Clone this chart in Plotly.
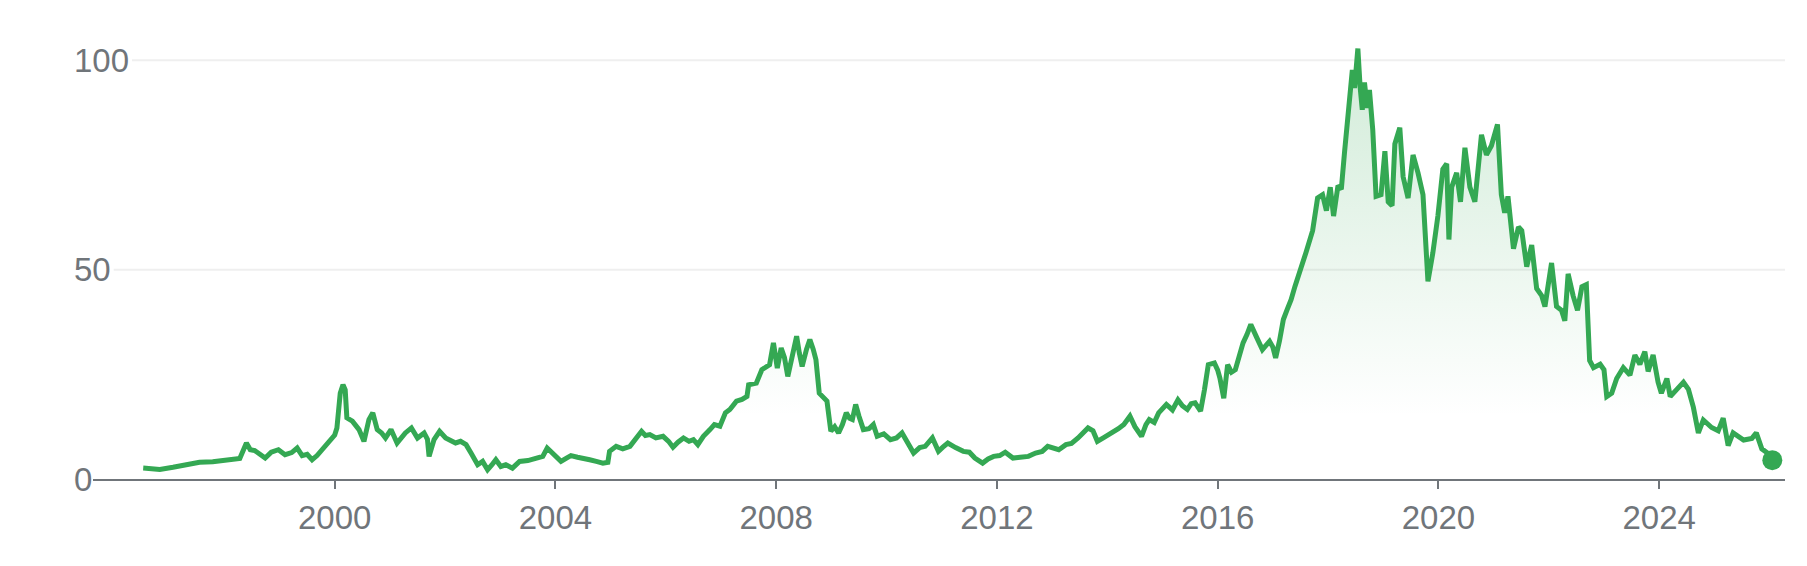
import plotly.graph_objects as go

# ---- data (decimal year, price) ----
years = [
    1996.53, 1996.71, 1996.83, 1997.07, 1997.31, 1997.55, 1997.79, 1998.10, 1998.28, 1998.40,
    1998.47, 1998.55, 1998.64, 1998.74, 1998.85, 1998.98, 1999.10, 1999.22, 1999.32, 1999.41,
    1999.50, 1999.59, 1999.68, 1999.77, 1999.85, 1999.92, 2000.00, 2000.04, 2000.10, 2000.15,
    2000.19, 2000.22, 2000.32, 2000.44, 2000.53, 2000.62, 2000.69, 2000.77, 2000.85, 2000.92,
    2001.02, 2001.13, 2001.20, 2001.28, 2001.39, 2001.50, 2001.62, 2001.68, 2001.71, 2001.80,
    2001.90, 2002.01, 2002.10, 2002.19, 2002.28, 2002.38, 2002.47, 2002.53, 2002.59, 2002.68,
    2002.77, 2002.85, 2002.92, 2003.01, 2003.10, 2003.22, 2003.35, 2003.50, 2003.65, 2003.77,
    2003.85, 2003.95, 2004.10, 2004.20, 2004.28, 2004.40, 2004.50, 2004.62, 2004.74, 2004.86,
    2004.95, 2004.98, 2005.10, 2005.22, 2005.35, 2005.45, 2005.56, 2005.63, 2005.71, 2005.82,
    2005.95, 2006.05, 2006.13, 2006.22, 2006.32, 2006.42, 2006.50, 2006.58, 2006.68, 2006.80,
    2006.88, 2006.98, 2007.08, 2007.16, 2007.28, 2007.38, 2007.47, 2007.50, 2007.64, 2007.74,
    2007.88, 2007.95, 2008.02, 2008.09, 2008.15, 2008.21, 2008.30, 2008.37, 2008.42, 2008.47,
    2008.55, 2008.61, 2008.67, 2008.72, 2008.78, 2008.86, 2008.92, 2008.99, 2009.06, 2009.13,
    2009.20, 2009.27, 2009.33, 2009.38, 2009.44, 2009.50, 2009.58, 2009.68, 2009.76, 2009.83,
    2009.95, 2010.07, 2010.18, 2010.28, 2010.38, 2010.49, 2010.60, 2010.70, 2010.83, 2010.94,
    2011.02, 2011.11, 2011.25, 2011.39, 2011.50, 2011.60, 2011.74, 2011.84, 2011.94, 2012.05,
    2012.15, 2012.29, 2012.42, 2012.57, 2012.70, 2012.82, 2012.92, 2013.02, 2013.12, 2013.25,
    2013.35, 2013.47, 2013.56, 2013.65, 2013.74, 2013.82, 2013.95, 2014.10, 2014.20, 2014.30,
    2014.41, 2014.50, 2014.62, 2014.70, 2014.76, 2014.85, 2014.93, 2015.07, 2015.18, 2015.28,
    2015.36, 2015.45, 2015.52, 2015.59, 2015.69, 2015.76, 2015.83, 2015.94, 2016.00, 2016.04,
    2016.11, 2016.18, 2016.25, 2016.32, 2016.40, 2016.46, 2016.53, 2016.60, 2016.70, 2016.81,
    2016.88, 2016.94, 2017.00, 2017.05, 2017.12, 2017.19, 2017.26, 2017.33, 2017.40, 2017.48,
    2017.60, 2017.72, 2017.81, 2017.90, 2017.97, 2018.04, 2018.10, 2018.18, 2018.24, 2018.30,
    2018.39, 2018.44, 2018.48, 2018.54, 2018.58, 2018.62, 2018.66, 2018.71, 2018.75, 2018.81,
    2018.87, 2018.96, 2019.03, 2019.09, 2019.16, 2019.21, 2019.30, 2019.36, 2019.45, 2019.54,
    2019.63, 2019.72, 2019.81, 2019.90, 2019.99, 2020.08, 2020.15, 2020.19, 2020.24, 2020.33,
    2020.40, 2020.48, 2020.57, 2020.66, 2020.78, 2020.87, 2020.96, 2021.07, 2021.14, 2021.20,
    2021.26, 2021.36, 2021.45, 2021.51, 2021.60, 2021.69, 2021.78, 2021.87, 2021.93, 2022.05,
    2022.14, 2022.23, 2022.29, 2022.35, 2022.44, 2022.52, 2022.60, 2022.68, 2022.74, 2022.81,
    2022.93, 2023.00, 2023.05, 2023.14, 2023.23, 2023.35, 2023.47, 2023.56, 2023.65, 2023.74,
    2023.80, 2023.89, 2023.98, 2024.04, 2024.14, 2024.20, 2024.32, 2024.44, 2024.53, 2024.62,
    2024.71, 2024.80, 2024.95, 2025.07, 2025.16, 2025.25, 2025.34, 2025.53, 2025.68, 2025.76,
    2025.86, 2025.95, 2026.05,
]
prices = [
    2.6, 2.5, 2.3, 2.8, 3.3, 4.0, 4.1, 4.6, 4.9, 8.6,
    7.0, 6.8, 6.0, 5.0, 6.4, 7.0, 5.8, 6.3, 7.4, 5.6,
    5.9, 4.6, 5.6, 7.0, 7.8, 9.0, 10.5, 12.2, 20.5, 22.5,
    21.3, 14.6, 13.8, 11.8, 9.0, 14.2, 15.8, 11.8, 11.0, 9.8,
    11.8, 8.6, 9.8, 11.0, 12.2, 9.8, 11.0, 9.5, 5.4, 9.4,
    11.4, 9.8, 9.2, 8.6, 9.0, 8.2, 6.2, 5.0, 3.4, 4.2,
    2.2, 3.4, 4.6, 3.0, 3.4, 2.6, 4.2, 4.4, 4.8, 5.4,
    7.4, 6.2, 4.2, 5.0, 5.6, 5.2, 5.0, 4.6, 4.2, 3.8,
    4.0, 6.6, 7.8, 7.2, 7.8, 9.5, 11.4, 10.4, 10.6, 9.8,
    10.2, 9.0, 7.6, 8.8, 9.8, 9.0, 9.4, 8.2, 10.2, 11.8,
    13.0, 12.6, 15.8, 16.6, 18.6, 19.0, 19.7, 22.5, 22.9, 26.1,
    27.3, 32.5, 26.5, 31.3, 29.0, 24.5, 29.5, 34.1, 30.0, 26.9,
    31.0, 33.3, 31.0, 28.5, 20.5, 19.5, 18.6, 11.4, 12.5, 11.0,
    13.0, 15.8, 14.5, 14.2, 17.8, 15.0, 11.8, 12.0, 13.0, 10.2,
    10.8, 9.4, 9.8, 11.0, 8.5, 6.2, 7.5, 7.8, 9.8, 6.6,
    7.6, 8.6, 7.5, 6.6, 6.4, 5.0, 3.8, 4.8, 5.4, 5.6,
    6.4, 5.0, 5.2, 5.4, 6.2, 6.6, 7.8, 7.4, 7.0, 8.2,
    8.5, 9.8, 11.0, 12.2, 11.5, 9.0, 10.0, 11.0, 12.0, 13.0,
    15.0, 12.5, 10.2, 13.0, 14.2, 13.5, 15.8, 17.8, 16.5, 18.9,
    17.5, 16.6, 18.0, 18.2, 16.2, 21.3, 27.3, 27.7, 26.0, 24.1,
    19.3, 27.3, 25.5, 26.1, 30.0, 32.5, 34.5, 36.9, 34.0, 30.9,
    32.0, 32.9, 31.5, 28.9, 33.0, 38.1, 40.5, 42.8, 46.0, 49.0,
    54.1, 59.3, 67.1, 67.9, 64.1, 69.7, 62.8, 70.1, 69.2, 78.3,
    90.3, 97.7, 93.4, 102.8, 93.8, 88.2, 94.7, 88.6, 92.9, 83.4,
    67.5, 67.9, 78.3, 66.2, 65.3, 80.0, 83.9, 72.2, 67.1, 77.4,
    73.1, 67.9, 47.2, 54.1, 62.8, 74.0, 75.3, 57.2, 69.7, 73.1,
    66.2, 79.1, 69.7, 66.2, 82.2, 77.4, 79.6, 84.7, 67.9, 63.6,
    67.5, 55.0, 60.2, 59.3, 50.7, 55.9, 45.5, 43.8, 41.2, 51.6,
    41.2, 40.3, 37.8, 49.0, 43.8, 40.3, 45.9, 46.4, 28.3, 26.6,
    27.4, 26.1, 19.7, 20.5, 24.0, 26.6, 24.8, 29.6, 27.4, 30.4,
    25.7, 29.6, 23.1, 20.5, 24.0, 19.7, 21.4, 23.1, 21.4, 17.1,
    11.0, 14.1, 12.3, 11.5, 14.5, 8.0, 11.0, 9.3, 9.7, 11.0,
    7.2, 6.3, 4.5,
]

x_tick_values = [2000, 2004, 2008, 2012, 2016, 2020, 2024]
x_tick_labels = ["2000", "2004", "2008", "2012", "2016", "2020", "2024"]
y_tick_values = [0, 50, 100]
y_tick_labels = ["0", "50", "100"]

# ---- style ----
GREEN = "#34A853"
GREY = "#70757a"
FONT = "Arial, 'Liberation Sans', sans-serif"
FONT_SIZE = 33
W, H = 1807, 566
L, R, T, B = 93, 22, 40, 87
X_RANGE = [1995.62, 2026.28]
Y_RANGE = [0, 104.85]

fig = go.Figure()
fig.add_trace(go.Scatter(
    x=years, y=prices, mode="lines",
    line=dict(color=GREEN, width=5),
    fill="tozeroy",
    fillgradient=dict(
        type="vertical", start=0, stop=100,
        colorscale=[[0, "rgba(52,168,83,0)"], [0.15, "rgba(52,168,83,0)"],
                    [1, "rgba(52,168,83,0.22)"]],
    ),
    hoverinfo="skip", showlegend=False,
))
fig.add_trace(go.Scatter(
    x=[years[-1]], y=[prices[-1]], mode="markers",
    marker=dict(color=GREEN, size=20),
    hoverinfo="skip", showlegend=False,
))

plot_w = W - L - R
label_left_px = 72
char_w = FONT_SIZE * 0.556
shapes = []
annotations = []
for v, lab in zip(y_tick_values, y_tick_labels):
    annotations.append(dict(
        x=(label_left_px - L) / plot_w, xref="paper", y=v, yref="y",
        text=lab, showarrow=False, xanchor="left", yanchor="middle",
        font=dict(family=FONT, size=FONT_SIZE, color=GREY),
    ))
    if v != 0:
        x0_px = label_left_px + 3 + len(lab) * char_w + 2
        shapes.append(dict(
            type="line", xref="paper", yref="y",
            x0=(x0_px - L) / plot_w, x1=1, y0=v, y1=v,
            line=dict(color="#efefef", width=2), layer="below",
        ))

fig.update_layout(
    template="none",
    width=W, height=H,
    margin=dict(l=L, r=R, t=T, b=B, pad=0, autoexpand=False),
    paper_bgcolor="white", plot_bgcolor="white",
    shapes=shapes, annotations=annotations,
    xaxis=dict(
        range=X_RANGE, tickmode="array", tickvals=x_tick_values, ticktext=x_tick_labels,
        showgrid=False, zeroline=False, showline=True, linecolor=GREY, linewidth=2,
        ticks="outside", ticklen=8, tickwidth=2, tickcolor=GREY,
        tickfont=dict(family=FONT, size=FONT_SIZE, color=GREY),
        fixedrange=True, automargin=False,
    ),
    yaxis=dict(
        range=Y_RANGE, showgrid=False, zeroline=False, showticklabels=False,
        showline=False, ticks="", fixedrange=True, automargin=False,
    ),
)

fig.write_html(
    "out.html",
    config={"displayModeBar": False, "staticPlot": True},
    post_script="document.body.style.margin='0';document.body.style.overflow='hidden';",
)
